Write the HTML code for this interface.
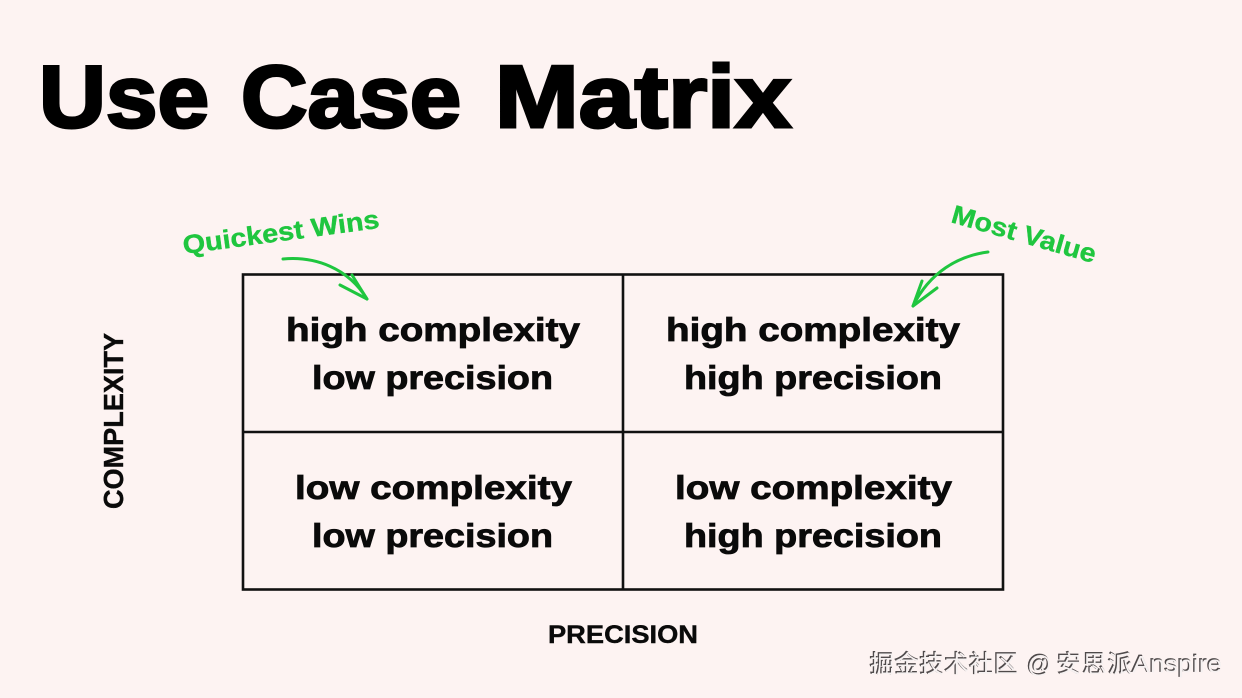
<!DOCTYPE html>
<html>
<head>
<meta charset="utf-8">
<style>
html,body{margin:0;padding:0;background:#fdf3f2;}
svg{display:block;}
text{font-family:"Liberation Sans","Noto Sans CJK SC",sans-serif;font-weight:700;}
.t{font-size:88px;fill:#000;stroke:#000;stroke-width:3px;}
.c{font-size:33px;fill:#0a0a0a;stroke:#0a0a0a;stroke-width:.8px;}
.g{fill:#1fc63f;font-size:26px;stroke:#1fc63f;stroke-width:.4px;}
.w{font-size:24px;font-weight:400;}
.ws{fill:#4f4a4b;stroke:#4f4a4b;stroke-width:.7px;}
.wf{fill:#f6f1f1;}
</style>
</head>
<body>
<svg width="1242" height="698" viewBox="0 0 1242 698" xmlns="http://www.w3.org/2000/svg">
<rect width="1242" height="698" fill="#fdf3f2"/>
<text class="t" x="39" y="127" textLength="170" lengthAdjust="spacingAndGlyphs">Use</text>
<text class="t" x="241" y="127" textLength="220" lengthAdjust="spacingAndGlyphs">Case</text>
<text class="t" x="495" y="127" textLength="296" lengthAdjust="spacingAndGlyphs">Matrix</text>

<g fill="none" stroke="#111" stroke-width="2.6">
<rect x="243" y="274.500" width="760" height="315"/>
<line x1="623" y1="274" x2="623" y2="590"/>
<line x1="243" y1="432" x2="1003" y2="432"/>
</g>

<text class="c" x="286" y="341" textLength="294" lengthAdjust="spacingAndGlyphs">high complexity</text>
<text class="c" x="312" y="389" textLength="241" lengthAdjust="spacingAndGlyphs">low precision</text>
<text class="c" x="666" y="341" textLength="294" lengthAdjust="spacingAndGlyphs">high complexity</text>
<text class="c" x="684" y="389" textLength="258" lengthAdjust="spacingAndGlyphs">high precision</text>
<text class="c" x="295" y="499" textLength="277" lengthAdjust="spacingAndGlyphs">low complexity</text>
<text class="c" x="312" y="547" textLength="241" lengthAdjust="spacingAndGlyphs">low precision</text>
<text class="c" x="675" y="499" textLength="277" lengthAdjust="spacingAndGlyphs">low complexity</text>
<text class="c" x="684" y="547" textLength="258" lengthAdjust="spacingAndGlyphs">high precision</text>

<text x="548" y="643" font-size="25" fill="#0a0a0a" stroke="#0a0a0a" stroke-width=".4" textLength="150" lengthAdjust="spacingAndGlyphs">PRECISION</text>
<text transform="translate(123 509) rotate(-90)" x="0" y="0" font-size="28" fill="#0a0a0a" stroke="#0a0a0a" stroke-width=".4" textLength="176" lengthAdjust="spacingAndGlyphs">COMPLEXITY</text>

<text class="g" transform="translate(184 254) rotate(-7.6)" textLength="198" lengthAdjust="spacingAndGlyphs">Quickest Wins</text>
<text class="g" transform="translate(950 222) rotate(16)" textLength="149" lengthAdjust="spacingAndGlyphs">Most Value</text>

<g fill="none" stroke="#1fc63f" stroke-width="3" stroke-linecap="round" stroke-linejoin="round">
<path d="M283 259 C315 256 348 268 367 299"/>
<path d="M340 285 L367 299 L352 275"/>
<path d="M988 252 C958 256 930 272 913 306"/>
<path d="M937 288 L913 306 L922 281"/>
</g>

<g class="w ws" transform="translate(-.7 -.5)">
<text x="870" y="672" textLength="148" class="w ws">掘金技术社区</text>
<text x="1027" y="672" class="w ws">@</text>
<text x="1057" y="672" textLength="75" class="w ws">安思派</text>
<text x="1132" y="672" textLength="90" class="w ws" lengthAdjust="spacingAndGlyphs">Anspire</text>
</g>
<g transform="translate(.3 .4)">
<text x="870" y="672" textLength="148" class="w wf">掘金技术社区</text>
<text x="1027" y="672" class="w wf">@</text>
<text x="1057" y="672" textLength="75" class="w wf">安思派</text>
<text x="1132" y="672" textLength="90" class="w wf" lengthAdjust="spacingAndGlyphs">Anspire</text>
</g>
</svg>
</body>
</html>
